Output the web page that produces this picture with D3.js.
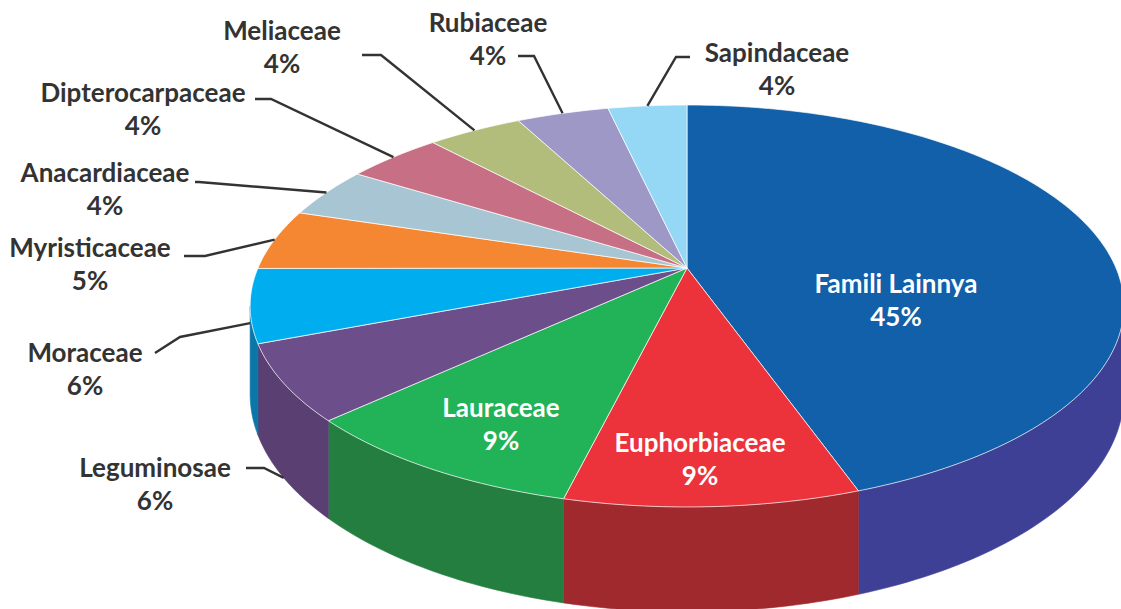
<!DOCTYPE html>
<html>
<head>
<meta charset="utf-8">
<script src="https://cdn.jsdelivr.net/npm/d3@7"></script>
<style>
  body { margin: 0; background: #fff; }
  text { font-family: Lato, "Open Sans", sans-serif; font-weight: 700; }
</style>
</head>
<body>
<div id="container"></div>
<script>
// slices, clockwise from 12 o'clock
var families = ["Famili Lainnya", "Euphorbiaceae", "Lauraceae", "Leguminosae", "Moraceae",
  "Myristicaceae", "Anacardiaceae", "Dipterocarpaceae", "Meliaceae", "Rubiaceae", "Sapindaceae"];
var shares = [44.7, 9.1, 9.2, 6.1, 5.9, 4.9, 4.1, 4.25, 4.2, 4.1, 3.5];
var shareLabels = ["45%", "9%", "9%", "6%", "6%", "5%", "4%", "4%", "4%", "4%", "4%"];
var topColors = ["#1160a9", "#ec333b", "#22b257", "#6c4e8b", "#00aeef",
  "#f58733", "#a7c5d3", "#c77085", "#b2bd7b", "#9e98c7", "#94d8f6"];
var sideColors = ["#3e4095", "#a0292e", "#237e40", "#5a3f73", "#0b77a8",
  "#b8622a", "#7d949f", "#955463", "#858e5c", "#767295", "#6fa2b8"];

var width = 1121, height = 609;

var svg = d3.select("div#container")
  .append("svg")
  .attr("width", width)
  .attr("height", height);

// perspective pie geometry
var cx = 687, cy = 268;   // apex
var B = 429, A = 193.8;   // horizontal / vertical radius
var u = 0.189;            // perspective strength
var H = 85;               // wall depth

function proj(t, k, depth) {
  var X = k * Math.sin(t), Z = -k * Math.cos(t);
  var s = 1 / (1 - u * Z);
  return [cx + B * X * s, cy + A * Z * s + (depth || 0) * H * s];
}

function arcPoints(a0, a1, depth) {
  var n = Math.max(2, Math.ceil((a1 - a0) / (Math.PI / 180)));
  return d3.range(n + 1).map(function(i) { return proj(a0 + (a1 - a0) * i / n, 1, depth); });
}

var pie = d3.pie().sort(null).startAngle(0).endAngle(2 * Math.PI);
var arcs = pie(shares);

var topCol = d3.scaleOrdinal().domain(families).range(topColors);
var sideCol = d3.scaleOrdinal().domain(families).range(sideColors);

var line = d3.line();

// walls: only the front part between the two silhouette angles is visible
var visLo = Math.PI - Math.acos(u), visHi = Math.PI + Math.acos(u);

var walls = svg.append("g").attr("class", "walls");
arcs.forEach(function(d, i) {
  var a0 = Math.max(d.startAngle, visLo), a1 = Math.min(d.endAngle, visHi);
  if (a1 <= a0) return;
  var pts = arcPoints(a0, a1, 0).concat(arcPoints(a0, a1, 1).reverse());
  walls.append("path")
    .attr("d", line(pts) + "Z")
    .attr("fill", sideCol(families[i]))
    .attr("stroke", sideCol(families[i]))
    .attr("stroke-width", 0.6);
});

// top faces
var tops = svg.append("g").attr("class", "tops");
arcs.forEach(function(d, i) {
  var pts = [[cx, cy]].concat(arcPoints(d.startAngle, d.endAngle, 0));
  tops.append("path")
    .attr("d", line(pts) + "Z")
    .attr("fill", topCol(families[i]))
    .attr("stroke", "#ffffff")
    .attr("stroke-width", 0.7)
    .attr("stroke-linejoin", "round");
});

// labels
var labelLayout = {
  "Famili Lainnya":   {x: 896, y: 293, inside: true},
  "Euphorbiaceae":    {x: 700, y: 452, inside: true},
  "Lauraceae":        {x: 501, y: 417, inside: true},
  "Leguminosae":      {x: 155, y: 477, lead: [[246, 468], [264, 468]], tipDepth: 1},
  "Moraceae":         {x: 85,  y: 362, lead: [[155, 353], [180, 337]], tipDepth: 0.2},
  "Myristicaceae":    {x: 90,  y: 257, lead: [[184, 256], [205, 256]]},
  "Anacardiaceae":    {x: 105, y: 182, lead: [[195, 182], [199, 182]]},
  "Dipterocarpaceae": {x: 143, y: 102, lead: [[255, 99], [271, 99]]},
  "Meliaceae":        {x: 282, y: 40,  lead: [[362, 55], [381, 55]]},
  "Rubiaceae":        {x: 488, y: 32,  lead: [[518, 56], [534, 56]]},
  "Sapindaceae":      {x: 777, y: 62,  lead: [[690, 57], [676, 57]]}
};

var labels = svg.append("g").attr("class", "labels");
arcs.forEach(function(d, i) {
  var name = families[i];
  var L = labelLayout[name];
  if (L.lead) {
    var mid = (d.startAngle + d.endAngle) / 2;
    var tip = proj(mid, 1, L.tipDepth || 0);
    labels.append("path")
      .attr("d", line(L.lead.concat([tip])))
      .attr("fill", "none")
      .attr("stroke", "#333333")
      .attr("stroke-width", 2.4);
  }
  var t = labels.append("text")
    .attr("text-anchor", "middle")
    .attr("font-size", "26px")
    .attr("fill", L.inside ? "#ffffff" : "#333333");
  t.append("tspan").attr("x", L.x).attr("y", L.y).text(name);
  t.append("tspan").attr("x", L.x).attr("y", L.y + 33).text(shareLabels[i]);
});
</script>
</body>
</html>
